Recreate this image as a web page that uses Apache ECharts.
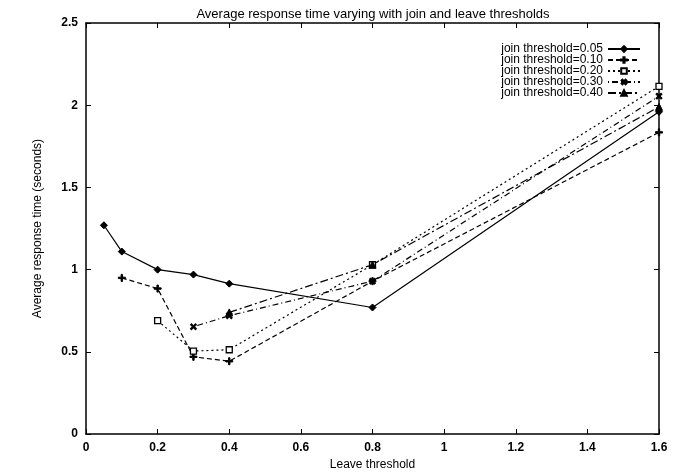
<!DOCTYPE html>
<html><head><meta charset="utf-8">
<script src="https://cdn.jsdelivr.net/npm/echarts@6/dist/echarts.min.js"></script>
<style>html,body{margin:0;padding:0;background:#fff}#c{width:678px;height:476px}</style>
</head><body><div id="c"></div>
<script>
var seriesNames = ['join threshold=0.05','join threshold=0.10','join threshold=0.20','join threshold=0.30','join threshold=0.40'];
var join005 = [[0.05,1.27],[0.1,1.11],[0.2,1.0],[0.3,0.97],[0.4,0.915],[0.8,0.77],[1.6,1.96]];
var join010 = [[0.1,0.95],[0.2,0.885],[0.3,0.47],[0.4,0.443],[0.8,0.93],[1.6,1.835]];
var join020 = [[0.2,0.69],[0.3,0.505],[0.4,0.513],[0.8,1.03],[1.6,2.115]];
var join030 = [[0.3,0.653],[0.4,0.72],[0.8,0.93],[1.6,2.055]];
var join040 = [[0.4,0.74],[0.8,1.03],[1.6,1.99]];

var plusPath = 'path://M4,0H6V4H10V6H6V10H4V6H0V4H4Z';
var font = '"Liberation Sans", Arial, sans-serif';
function mk(name, data, symbol, size, dash, extra) {
  var s = {
    name: name, type: 'line', data: data, symbol: symbol, symbolSize: size,
    lineStyle: {color: '#000', width: 1.2, type: dash},
    itemStyle: {color: '#000', borderColor: '#000', borderWidth: 1},
    emphasis: {disabled: true}, animation: false, z: 3
  };
  if (extra) Object.assign(s, extra);
  return s;
}
var axisLineStyle = {show: true, onZero: false, lineStyle: {color: '#000', width: 1.5}};
var tickStyle = {show: true, inside: true, length: 5, lineStyle: {color: '#000'}};
var chart = echarts.init(document.getElementById('c'));
chart.setOption({
  backgroundColor: '#fff',
  animation: false,
  title: {text: 'Average response time varying with join and leave thresholds', left: 368, textAlign: 'center', top: 3,
    textStyle: {fontFamily: font, fontSize: 13, fontWeight: 'normal', color: '#000'}},
  legend: {orient: 'vertical', right: 32, top: 38, align: 'right', itemGap: -1, itemWidth: 32, itemHeight: 7,
    textStyle: {fontFamily: font, fontSize: 12, color: '#000'}, data: seriesNames},
  grid: {left: 86, right: 19, top: 23, bottom: 36},
  xAxis: [{type: 'value', min: 0, max: 1.6, interval: 0.2, position: 'bottom',
    name: 'Leave threshold', nameLocation: 'middle', nameGap: 21,
    nameTextStyle: {fontFamily: font, fontSize: 12, color: '#000'},
    axisLine: axisLineStyle, axisTick: tickStyle,
    axisLabel: {fontFamily: font, fontSize: 12, fontWeight: 'bold', color: '#000', margin: 8},
    splitLine: {show: false}},
   {type: 'value', min: 0, max: 1.6, interval: 0.2, position: 'top',
    axisLine: axisLineStyle, axisTick: tickStyle,
    axisLabel: {show: false}, splitLine: {show: false}}],
  yAxis: [{type: 'value', min: 0, max: 2.5, interval: 0.5, position: 'left',
    name: 'Average response time (seconds)', nameLocation: 'middle', nameGap: 42, nameRotate: 90,
    nameTextStyle: {fontFamily: font, fontSize: 12, color: '#000'},
    axisLine: axisLineStyle, axisTick: tickStyle,
    axisLabel: {fontFamily: font, fontSize: 12, fontWeight: 'bold', color: '#000', margin: 8},
    splitLine: {show: false}},
   {type: 'value', min: 0, max: 2.5, interval: 0.5, position: 'right',
    axisLine: axisLineStyle, axisTick: tickStyle,
    axisLabel: {show: false}, splitLine: {show: false}}],
  series: [
    mk(seriesNames[0], join005, 'diamond', 7, 'solid'),
    mk(seriesNames[1], join010, plusPath, 7, [5, 3]),
    mk(seriesNames[2], join020, 'rect', 6, [2, 3], {itemStyle: {color: '#fff', borderColor: '#000', borderWidth: 1.3}}),
    mk(seriesNames[3], join030, plusPath, 7, [1, 3, 6, 3], {symbolRotate: 45}),
    mk(seriesNames[4], join040, 'triangle', 7, [8, 3, 2, 3])
  ]
});
</script></body></html>
